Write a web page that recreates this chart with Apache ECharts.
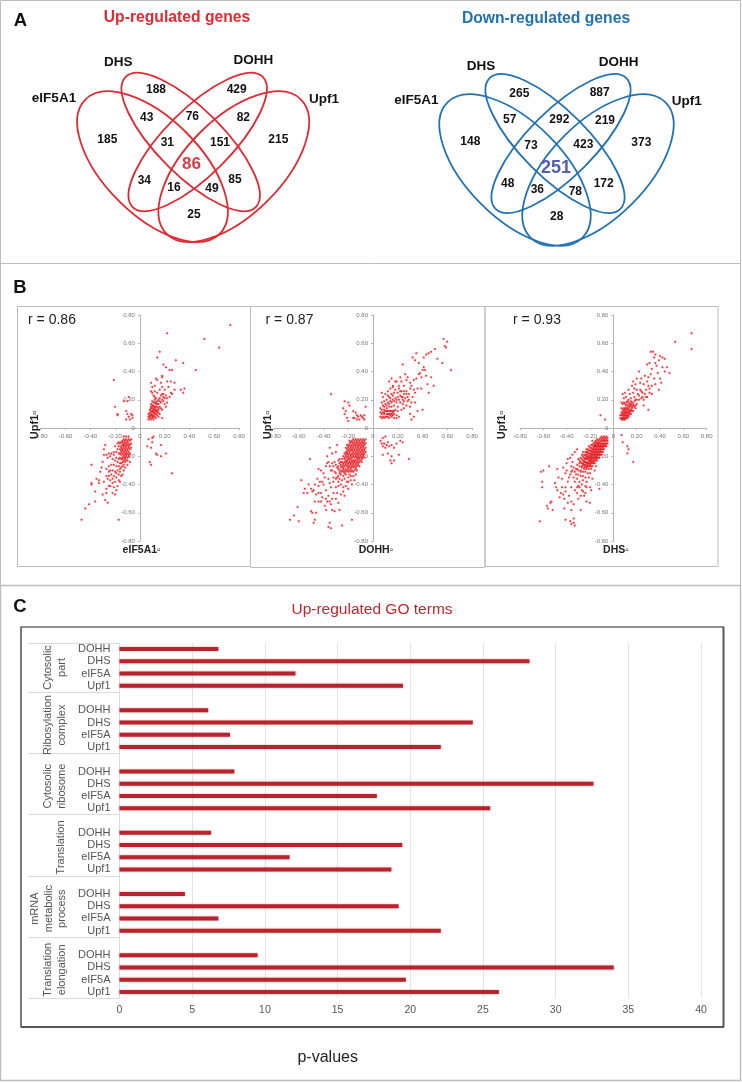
<!DOCTYPE html>
<html><head><meta charset="utf-8">
<style>html,body{margin:0;padding:0;background:#fff}#c{width:742px;height:1083px}</style>
<script src="https://cdn.jsdelivr.net/npm/echarts@6/dist/echarts.min.js"></script>
</head><body><div id="c"></div>
<script>
// Panel C data
const goTerms = ['Cytosolic\npart','Ribosylation\ncomplex','Cytosolic\nribosome','Translation','mRNA\nmetabolic\nprocess','Translation\nelongation'];
const samples = ['DOHH','DHS','eIF5A','Upf1'];
const pCytosolicPart = [6.8,28.2,12.1,19.5];
const pRibosylation = [6.1,24.3,7.6,22.1];
const pCytosolicRibosome = [7.9,32.6,17.7,25.5];
const pTranslation = [6.3,19.45,11.7,18.7];
const pMrna = [4.5,19.2,6.8,22.1];
const pElongation = [9.5,34.0,19.7,26.1];
// Panel A data
const upCounts = {e:185,dhs:188,dohh:429,u:215,a:43,b:76,c:82,d:31,f:151,g:34,h:16,i:49,j:85,k:25,m:86};
const downCounts = {e:148,dhs:265,dohh:887,u:373,a:57,b:292,c:219,d:73,f:423,g:48,h:36,i:78,j:172,k:28,m:251};
// Panel B data: flat x,y pairs in hundredths
const scatterEif = [73,73,22,67,52,63,64,57,16,54,14,50,29,48,35,46,19,45,21,43,26,41,24,41,45,41,18,37,18,36,13,35,-21,34,9,32,14,34,22,33,25,33,28,32,36,28,33,27,28,27,35,25,-9,22,-10,19,-13,19,-20,15,-18,10,-18,9,-11,12,-10,10,-7,10,-6,9,-8,6,-11,6,-9,8,-6,7,
10,-7,11,-6,7,-8,6,-13,10,-10,9,-14,13,-18,14,-19,17,-12,17,-20,21,-18,8,-24,9,-26,26,-32,
7,6,8,7,9,6,10,7,11,6,8,9,9,9,10,9,11,9,12,8,13,7,7,10,8,11,9,12,10,11,11,11,12,11,13,10,14,9,15,8,9,14,10,14,11,13,12,13,13,13,14,12,15,11,16,10,18,7,10,16,11,16,12,15,13,15,14,15,15,14,9,17,10,19,11,18,12,18,13,18,14,17,16,15,18,13,17,18,18,20,19,22,20,21,21,23,17,23,18,24,16,21,15,20,13,21,12,22,11,23,10,25,9,26,12,26,14,25,16,27,19,19,20,17,21,15,22,18,24,22,25,25,23,29,26,24,20,27,18,29,12,30,10,29,17,32,
-47,-65,-17,-65,-44,-57,-41,-54,-36,-52,-28,-51,-26,-53,-39,-26,-39,-39,-39,-40,-36,-45,-35,-36,-33,-37,-33,-39,
-7,-8,-8,-9,-9,-8,-10,-9,-11,-8,-12,-9,-13,-8,-14,-9,-15,-10,-16,-11,-7,-11,-8,-12,-9,-11,-10,-12,-11,-11,-12,-12,-13,-11,-14,-12,-15,-13,-17,-13,-7,-14,-8,-15,-9,-14,-10,-15,-11,-14,-12,-15,-13,-14,-14,-15,-15,-16,-16,-15,-18,-15,-8,-18,-9,-17,-10,-18,-11,-17,-12,-18,-13,-17,-14,-18,-15,-19,-16,-18,-17,-18,-19,-17,-9,-20,-10,-21,-11,-20,-12,-21,-13,-20,-14,-21,-15,-22,-16,-21,-17,-22,-19,-21,-21,-19,-11,-23,-12,-24,-13,-23,-14,-24,-15,-25,-16,-25,-18,-24,-20,-23,-22,-22,-24,-20,-25,-18,-26,-21,-27,-19,-29,-19,-28,-12,-29,-15,-14,-27,-15,-28,-17,-27,-19,-27,-21,-26,-23,-26,-25,-27,-13,-30,-16,-31,-18,-30,-20,-31,-22,-30,-24,-30,-27,-29,-15,-34,-17,-33,-19,-35,-21,-34,-23,-33,-25,-34,-32,-31,-20,-38,-22,-39,-24,-37,-26,-36,-17,-37,-18,-41,-21,-42,-19,-44,-25,-41,-27,-43,-22,-46,-27,-46,-20,-47];
const scatterEifExtra = [-30,-24,-31,-28,-27,-34,-29,-38,-24,-41,-30,-47,-16,-38,-12,-28,-14,-33,-23,-18,-20,-13,-21,-17,-18,-11,-17,-10,-13,-6,-11,-6,-9,-6,-8,-24,-10,-26,-13,-26,-16,-29,-19,-32,-22,-36,-25,-31,
-10,-10,-12,-10,-13,-12,-14,-10,-9,-13,-11,-13,-13,-13,-15,-14,-10,-16,-12,-16,-14,-16,-9,-19,-11,-19,-13,-19,-15,-17,-12,-22,-14,-22,-10,-23,
8,8,10,8,12,10,14,11,9,10,11,12,13,12,9,15,11,15,13,17,15,17,12,20,14,19,16,19,19,24,22,21,8,13,10,12,12,14,15,13,17,14,7,8,11,8];
const scatterDohh = [57,63,58,58,59,57,60,61,63,41,56,46,52,49,50,56,47,54,45,53,43,52,41,50,35,53,32,50,34,48,37,46,24,45,41,43,40,41,38,39,42,41,44,31,49,30,45,25,39,28,40,13,33,8,31,6,30,10,
33,34,30,32,28,36,26,38,27,34,30,28,33,27,36,28,34,25,32,22,28,22,25,30,23,33,22,36,25,26,21,28,19,33,16,30,15,35,13,33,17,25,20,25,22,26,24,22,26,21,28,19,27,16,30,15,25,14,23,13,20,12,
7,25,8,22,10,24,12,26,14,28,16,29,18,27,15,24,13,22,11,20,9,19,7,18,8,16,10,17,12,18,14,19,16,20,18,21,20,22,19,18,17,16,15,15,13,15,11,14,9,13,7,13,6,11,8,11,10,12,12,12,14,12,16,12,18,13,20,15,22,18,24,20,6,8,7,7,8,8,9,7,10,8,11,8,12,8,13,7,14,9,15,8,16,9,17,7,19,9,7,10,9,10,11,10,13,10,15,10,17,10,6,14,19,7,21,8,
-34,24,-23,19,-20,18,-19,16,-24,14,-22,12,-23,10,-21,7,-20,5,-16,12,-14,11,-13,9,-15,7,-12,8,-11,6,-10,9,-9,8,-8,7,-7,9,-6,15,-13,6,-16,7,-7,6,
6,-9,8,-7,10,-6,7,-11,9,-11,11,-12,8,-13,10,-14,12,-10,13,-13,15,-12,17,-14,19,-11,22,-9,24,-10,8,-19,12,-18,15,-20,14,-23,17,-23,15,-25,21,-19,29,-22,
-67,-65,-64,-62,-61,-56,-60,-66,-48,-67,-50,-59,-49,-60,-47,-65,-46,-60,-36,-70,-34,-71,-35,-67,-25,-69,-17,-65,-38,-58,-35,-52,-30,-50,-31,-59,-27,-58,-58,-37,-55,-43,-56,-46,-50,-43,-48,-44,-52,-40,-51,-22,-43,-38,-44,-41,-46,-47,-42,-46,-40,-40,-38,-44,-36,-48,-34,-54,-32,-46,-30,-42,-42,-52,-38,-50,-34,-42,-28,-53,-26,-47,-32,-38,-36,-36,-40,-32,-42,-30,-44,-29,-38,-27,-36,-24,-34,-30,-30,-36,-28,-38,-26,-40,-24,-42,-20,-38,-33,-18,-35,-14,-37,-20,-29,-12,-30,-17,-27,-22,
-6,-8,-7,-9,-8,-8,-9,-9,-10,-8,-11,-9,-12,-8,-13,-9,-14,-8,-15,-9,-16,-8,-17,-9,-18,-10,-19,-9,-6,-11,-7,-12,-8,-11,-9,-12,-10,-11,-11,-12,-12,-11,-13,-12,-14,-11,-15,-12,-16,-11,-17,-12,-18,-13,-19,-12,-20,-13,-21,-12,-6,-14,-7,-15,-8,-14,-9,-15,-10,-14,-11,-15,-12,-14,-13,-15,-14,-14,-15,-15,-16,-14,-17,-15,-18,-16,-19,-15,-20,-16,-21,-15,-22,-14,-6,-17,-7,-18,-8,-17,-9,-18,-10,-17,-11,-18,-12,-17,-13,-18,-14,-17,-15,-18,-16,-17,-17,-18,-18,-19,-19,-18,-20,-19,-21,-18,-22,-17,-23,-18,-7,-21,-8,-20,-9,-21,-10,-20,-11,-21,-12,-20,-13,-21,-14,-20,-15,-21,-16,-20,-17,-21,-18,-22,-19,-21,-20,-22,-21,-21,-22,-20,-23,-21,-24,-20,-9,-24,-10,-23,-11,-24,-12,-23,-13,-24,-14,-23,-15,-24,-16,-23,-17,-24,-18,-25,-19,-24,-20,-25,-21,-24,-22,-23,-23,-24,-24,-25,-25,-24,-11,-27,-12,-26,-13,-27,-14,-26,-15,-27,-16,-26,-17,-27,-18,-28,-19,-27,-20,-28,-21,-27,-22,-26,-23,-27,-24,-28,-25,-27,-26,-26,-27,-25,-13,-30,-14,-29,-15,-30,-16,-31,-17,-30,-18,-31,-19,-30,-20,-31,-21,-30,-22,-31,-23,-30,-24,-31,-25,-30,-26,-31,-27,-30,-28,-29,-16,-34,-18,-34,-20,-35,-22,-33,-24,-34,-26,-33,-28,-34,-30,-32,-18,-37,-21,-38,-23,-36,-25,-37,-27,-36,-29,-35,-17,-40,-22,-41,-31,-24,-32,-27,-33,-25,-29,-28];
const scatterDohhExtra = [-7,-10,-9,-10,-11,-10,-13,-10,-15,-10,-17,-10,-19,-11,-8,-13,-10,-13,-12,-13,-14,-13,-16,-13,-18,-14,-20,-14,-7,-16,-9,-16,-11,-16,-13,-16,-15,-16,-17,-16,-19,-17,-21,-17,-8,-19,-10,-19,-12,-19,-14,-19,-16,-19,-18,-20,-20,-20,-22,-19,-9,-22,-11,-22,-13,-22,-15,-23,-17,-23,-19,-23,-21,-23,-23,-22,-25,-22,-12,-25,-14,-25,-16,-25,-18,-26,-20,-26,-22,-25,-24,-26,-26,-24,-28,-23,-14,-28,-16,-28,-18,-29,-20,-29,-22,-29,-24,-29,-26,-28,-28,-27,-30,-26,
-19,-33,-23,-32,-27,-32,-31,-31,-33,-30,-35,-27,-37,-25,-39,-35,-41,-38,-45,-36,-47,-40,-49,-45,-53,-46,-44,-46,-41,-49,-37,-52,-33,-50,-29,-46,-24,-45,-20,-43,-15,-37,-14,-33,-39,-55,-33,-58,-44,-52,-47,-52,-23,-48,-35,-39,-32,-35,-28,-41,
11,12,13,12,15,12,17,12,9,11,12,10,14,10,16,11,9,15,11,16,13,17,15,18,17,19,19,20,21,20,23,22,25,24,27,26,29,24,31,30,35,35,37,38,39,36,43,37,47,36,29,20,31,18,34,18,36,12,27,24,23,26,21,30,18,33,12,23,14,21,16,23,22,23,25,19,24,17];
const scatterDhs = [67,67,67,56,53,61,32,54,34,54,36,52,35,50,40,51,42,50,44,49,31,46,29,45,39,48,36,46,42,43,44,40,48,39,38,39,32,38,22,40,27,37,30,36,35,35,40,35,36,31,41,32,39,27,33,24,30,30,26,31,23,32,20,35,19,31,17,33,28,27,31,25,24,26,20,27,18,28,16,30,28,22,25,22,22,23,30,13,26,16,
-11,9,-7,6,7,-5,8,-10,12,-13,13,-15,12,-18,17,-24,
8,24,9,21,10,25,11,22,12,19,13,27,14,24,15,21,16,18,17,25,18,22,19,20,20,17,21,24,7,18,8,17,9,18,10,17,11,18,12,16,13,18,14,17,15,16,16,15,17,16,18,15,19,14,7,14,8,13,9,14,10,13,11,14,12,13,13,14,14,13,15,13,16,12,17,12,7,11,8,11,9,11,10,11,11,11,12,11,13,11,14,10,15,10,6,9,7,9,8,9,9,9,10,9,11,9,12,9,13,8,6,7,7,7,8,7,9,7,10,7,11,7,12,7,7,6,8,6,9,6,10,6,
-63,-66,-61,-38,-62,-31,-60,-30,-55,-27,-48,-29,-61,-42,-50,-39,-49,-42,-48,-44,-45,-46,-43,-47,-41,-45,-56,-57,-57,-55,-54,-53,-53,-52,-52,-58,-42,-50,-38,-48,-36,-52,-34,-54,-36,-58,-42,-57,-34,-64,-41,-65,-37,-66,-36,-68,-34,-67,-33,-69,-28,-58,-23,-52,-20,-53,-23,-42,-20,-42,-19,-44,-12,-43,-39,-38,-36,-42,-33,-44,-31,-46,-29,-42,-28,-48,-26,-45,-33,-38,-37,-33,-41,-32,-43,-28,-40,-25,-39,-22,-36,-27,-37,-21,-35,-19,-35,-24,-33,-17,-31,-15,
-5,-7,-6,-6,-7,-7,-8,-6,-9,-7,-10,-6,-11,-7,-5,-9,-6,-9,-7,-9,-8,-9,-9,-9,-10,-9,-11,-9,-12,-8,-13,-9,-14,-8,-15,-9,-5,-11,-6,-11,-7,-11,-8,-11,-9,-11,-10,-11,-11,-11,-12,-11,-13,-11,-14,-11,-15,-11,-16,-10,-17,-11,-18,-9,-6,-13,-7,-13,-8,-13,-9,-13,-10,-13,-11,-13,-12,-13,-13,-13,-14,-13,-15,-13,-16,-13,-17,-13,-18,-12,-19,-12,-8,-15,-9,-15,-10,-15,-11,-15,-12,-15,-13,-15,-14,-15,-15,-15,-16,-15,-17,-15,-18,-15,-19,-14,-20,-14,-21,-13,-9,-17,-10,-17,-11,-17,-12,-17,-13,-17,-14,-17,-15,-17,-16,-17,-17,-17,-18,-17,-19,-17,-20,-16,-21,-16,-22,-15,-23,-15,-10,-19,-11,-19,-12,-19,-13,-19,-14,-19,-15,-19,-16,-19,-17,-19,-18,-19,-19,-19,-20,-19,-21,-18,-22,-18,-23,-17,-24,-17,-12,-21,-13,-21,-14,-21,-15,-21,-16,-21,-17,-21,-18,-21,-19,-21,-20,-21,-21,-21,-22,-20,-23,-20,-24,-19,-25,-19,-26,-17,-14,-23,-15,-23,-16,-23,-17,-23,-18,-23,-19,-23,-20,-23,-21,-23,-22,-22,-23,-22,-24,-22,-25,-21,-26,-20,-27,-19,-16,-25,-17,-25,-18,-25,-19,-25,-20,-25,-21,-25,-22,-25,-23,-25,-24,-24,-25,-24,-26,-23,-27,-22,-28,-21,-18,-27,-19,-27,-20,-27,-21,-27,-22,-27,-23,-27,-24,-27,-25,-26,-26,-26,-27,-25,-28,-24,-29,-23,-30,-22,-19,-29,-21,-29,-23,-29,-25,-29,-27,-28,-29,-27,-31,-26,-20,-32,-22,-32,-24,-31,-26,-31,-28,-31,-30,-30,-32,-29,-34,-28,-21,-35,-24,-35,-26,-34,-28,-34,-30,-33,-32,-33,-35,-30,-23,-38,-26,-37,-29,-38,-31,-36,-34,-35,-24,-41,-27,-40,-30,-41,-18,-36,-16,-30,-15,-27];
const scatterDhsExtra = [-6,-8,-8,-8,-10,-8,-12,-10,-14,-10,-16,-12,-7,-12,-9,-12,-11,-12,-13,-12,-15,-12,-17,-14,-9,-14,-11,-14,-13,-14,-15,-14,-17,-16,-19,-16,-11,-16,-13,-16,-15,-16,-18,-18,-20,-18,-22,-17,-12,-18,-14,-18,-16,-18,-19,-20,-21,-20,-23,-19,-14,-20,-16,-20,-18,-20,-20,-22,-22,-21,-24,-21,-15,-22,-17,-22,-19,-22,-21,-24,-23,-24,-25,-23,-17,-24,-19,-24,-22,-26,-24,-26,-26,-25,-20,-26,-23,-28,-25,-28,-27,-27,-29,-25,-28,-30,-31,-29,-33,-31,-36,-31,-38,-35,-40,-30,-44,-36,-44,-42,-47,-35,-46,-49,-41,-42,-39,-53,-31,-42,-27,-44,-25,-48,-30,-50,-24,-46,
9,8,11,8,13,9,8,10,10,10,12,10,14,11,9,12,11,12,13,12,15,12,10,14,12,14,14,15,16,14,11,16,13,16,15,17,17,17,19,16,13,20,15,19,18,19,20,20,22,20,24,21,26,20,23,27,25,25,27,24,29,22,29,33,31,28,33,30,37,44,24,35,33,42,46,43];

const SANS = '"Liberation Sans",Arial,sans-serif';
const RED='#df2a33', BLUE='#2272b0', GREY='#bdbdbd';
const pairs = a => { const o=[]; for(let i=0;i<a.length;i+=2) o.push([a[i]/100,a[i+1]/100]); return o; };
const tx = (x,y,t,size,color,weight,extra) => Object.assign({type:'text',x,y,silent:true,style:{text:t,fontSize:size,fill:color,fontWeight:weight||'normal',fontFamily:SANS,align:'center',verticalAlign:'middle'}},extra||{});
const seg = (x1,y1,x2,y2,c,w) => ({type:'line',silent:true,shape:{x1,y1,x2,y2},style:{stroke:c,lineWidth:w||1}});
const ell = (x,y,a,b,rot,c) => ({type:'ellipse',silent:true,x,y,rotation:rot,shape:{cx:0,cy:0,rx:a,ry:b},style:{fill:'none',stroke:c,lineWidth:1.8}});

const g = [];
// panel frames
g.push({type:'rect',silent:true,shape:{x:0.5,y:0.5,width:740,height:263},style:{fill:'none',stroke:GREY,lineWidth:1}});
g.push({type:'rect',silent:true,shape:{x:0.5,y:263.5,width:740,height:322},style:{fill:'none',stroke:GREY,lineWidth:1}});
g.push({type:'rect',silent:true,shape:{x:0.5,y:585.5,width:740,height:495},style:{fill:'none',stroke:GREY,lineWidth:1.4}});
g.push({type:'rect',silent:true,shape:{x:17.5,y:306.5,width:233,height:260},style:{fill:'none',stroke:GREY,lineWidth:1}});
g.push({type:'rect',silent:true,shape:{x:250.5,y:306.5,width:234.5,height:261},style:{fill:'none',stroke:GREY,lineWidth:1}});
g.push({type:'rect',silent:true,shape:{x:485,y:306.5,width:233,height:260},style:{fill:'none',stroke:GREY,lineWidth:1}});
// letters & titles
g.push(tx(20.5,21,'A',18.5,'#111','bold'),tx(20,288,'B',18.5,'#111','bold'),tx(20,606.5,'C',18.5,'#111','bold'));
g.push(tx(177,18,'Up-regulated genes',15.7,RED,'bold'),tx(546,19,'Down-regulated genes',15.7,BLUE,'bold'));
// Venn up
const Q=Math.PI/4;
g.push(ell(152.5,166.7,95,48,-Q,RED),ell(233.8,166.7,95,48,Q,RED),ell(190.7,142,92,33,-Q,RED),ell(197.7,142,92,33,Q,RED));
// Venn down
g.push(ell(515,170,95.5,48,-Q,BLUE),ell(598,170,95.5,48,Q,BLUE),ell(555,143.5,92.5,33,-Q,BLUE),ell(561,143.5,92.5,33,Q,BLUE));
const vennSpots = {dhs:[468,270],dohh:[710,268],e:[322,418],a:[440,352],b:[577,349],c:[730,352],u:[835,418],d:[502,428],f:[660,428],g:[433,541],h:[522,563],i:[636,566],j:[705,540],k:[582,643]};
const vennSpots2 = {dhs:[445,280],dohh:[686,278],e:[298,426],a:[416,358],b:[565,358],c:[702,361],u:[811,428],d:[480,436],f:[637,434],g:[410,550],h:[499,570],i:[613,574],j:[698,550],k:[557,651]};
for(const k in vennSpots) g.push(tx(vennSpots[k][0]/3,vennSpots[k][1]/3,String(upCounts[k]),12,'#111','bold'));
for(const k in vennSpots2) g.push(tx(371+vennSpots2[k][0]/3,vennSpots2[k][1]/3,String(downCounts[k]),12,'#111','bold'));
g.push(tx(191.5,164.5,String(upCounts.m),17,'#df3a44','bold'),tx(371+185,168.5,String(downCounts.m),18,'#5560ae','bold'));
g.push(tx(118.3,62,'DHS',13.5,'#111','bold'),tx(253.3,60,'DOHH',13.5,'#111','bold'),tx(54,98.7,'eIF5A1',13.5,'#111','bold'),tx(324,99.3,'Upf1',13.5,'#111','bold'));
g.push(tx(481,66,'DHS',13.5,'#111','bold'),tx(618.7,62,'DOHH',13.5,'#111','bold'),tx(416.3,100,'eIF5A1',13.5,'#111','bold'),tx(686.7,101.7,'Upf1',13.5,'#111','bold'));
// panel B texts
g.push(tx(52,320,'r = 0.86',14,'#222'),tx(289.5,320,'r = 0.87',14,'#222'),tx(537,320,'r = 0.93',14,'#222'));
const BOX='\u25AB';
g.push(tx(141.7,550,'eIF5A1'+BOX,10.5,'#222','bold'),tx(376,550,'DOHH'+BOX,10.5,'#222','bold'),tx(616,550,'DHS'+BOX,10.5,'#222','bold'));
[35,268,501.7].forEach(x=>g.push(tx(x,425,'Upf1'+BOX,11,'#222','bold',{rotation:Math.PI/2})));
// panel C frame & titles
g.push({type:'rect',silent:true,shape:{x:21,y:627,width:702.5,height:400},style:{fill:'none',stroke:'#222',lineWidth:1.2}});
g.push(seg(21,1027,723.5,1027,'#555',1.8),seg(723.5,627,723.5,1027,'#555',1.8));
g.push(tx(372,610,'Up-regulated GO terms',15.5,'#c0272d'));
g.push(tx(327.7,1058,'p-values',16,'#222'));

// build bars: first group has no leading gap row
const groupVals=[pCytosolicPart,pRibosylation,pCytosolicRibosome,pTranslation,pMrna,pElongation];
const cats=[], vals=[];
groupVals.forEach((v,i)=>{ if(i){cats.push('');vals.push(null);} samples.forEach((s,j)=>{cats.push(s);vals.push(v[j]);}); });
const rowH=355/cats.length, plotTop=643;
// group separators and rotated labels
let rowStart=0;
goTerms.forEach((term,i)=>{
  const n=i?5:4, y0=plotTop+rowStart*rowH, y1=y0+n*rowH;
  g.push(seg(28,Math.round(y1)+.5,119.5,Math.round(y1)+.5,'#dcdcdc',1));
  if(i===0) g.push(seg(28,plotTop+.5,119.5,plotTop+.5,'#dcdcdc',1));
  const nl=term.split('\n').length;
  const xc = nl===1 ? 61 : (nl===3 ? 48.5 : 55);
  const yc = i ? y0+rowH*0.2+(y1-y0)/2 : (y0+y1)/2;
  g.push(tx(xc,yc,term,11,'#555','normal',{rotation:Math.PI/2,style:{text:term,fontSize:11,fill:'#555',fontFamily:SANS,align:'center',verticalAlign:'middle',lineHeight:13.5}}));
  rowStart+=n;
});

const scGrids=[{left:40.7,width:198.3},{left:274,width:198},{left:520,width:186.7}].map(o=>({left:o.left,width:o.width,top:315,height:226}));
const scData=[scatterEif.concat(scatterEifExtra),scatterDohh.concat(scatterDohhExtra),scatterDhs.concat(scatterDhsExtra)];
const fmt=v=>{const r=Math.round(v*100)/100; return r===0?'0':r.toFixed(2);};
const axisCommon={type:'value',min:-0.8,max:0.8,interval:0.2,splitLine:{show:false},axisLine:{onZero:false,lineStyle:{color:'#b5b5b5',width:1}},axisTick:{show:true,length:2,lineStyle:{color:'#b5b5b5'}},axisLabel:{fontSize:6,color:'#777',fontFamily:SANS,formatter:fmt,margin:5,showMinLabel:true,showMaxLabel:true,hideOverlap:false}};
const grid=[...scGrids,{left:119.5,width:581.5,top:643,height:355}];
const xAxis=scGrids.map((o,i)=>Object.assign({gridIndex:i,offset:-o.height/2},axisCommon));
const yAxis=scGrids.map((o,i)=>Object.assign({gridIndex:i,offset:-o.width/2},axisCommon));
xAxis.push({gridIndex:3,type:'value',min:0,max:40,interval:5,axisLine:{show:false},axisTick:{show:false},splitLine:{lineStyle:{color:'#e4e4e4',width:1}},axisLabel:{fontSize:10.5,color:'#555',fontFamily:SANS,margin:7}});
yAxis.push({gridIndex:3,type:'category',inverse:true,data:cats,axisLine:{lineStyle:{color:'#dcdcdc'}},axisTick:{show:false},axisLabel:{interval:0,fontSize:11,color:'#555',fontFamily:SANS,margin:9}});
const series=scData.map((d,i)=>({type:'scatter',xAxisIndex:i,yAxisIndex:i,data:pairs(d),symbolSize:2,silent:true,animation:false,itemStyle:{color:'#e8262c',opacity:.85,shadowBlur:1.5,shadowColor:'rgba(232,38,44,.55)'}}));
series.push({type:'bar',xAxisIndex:3,yAxisIndex:3,data:vals,barWidth:4,silent:true,animation:false,itemStyle:{color:'#b8242d',shadowBlur:2,shadowColor:'rgba(200,60,70,.5)'}});

const chart=echarts.init(document.getElementById('c'),null,{renderer:'canvas'});
chart.setOption({animation:false,backgroundColor:'#fff',grid,xAxis,yAxis,series,graphic:{elements:g}});
</script></body></html>
